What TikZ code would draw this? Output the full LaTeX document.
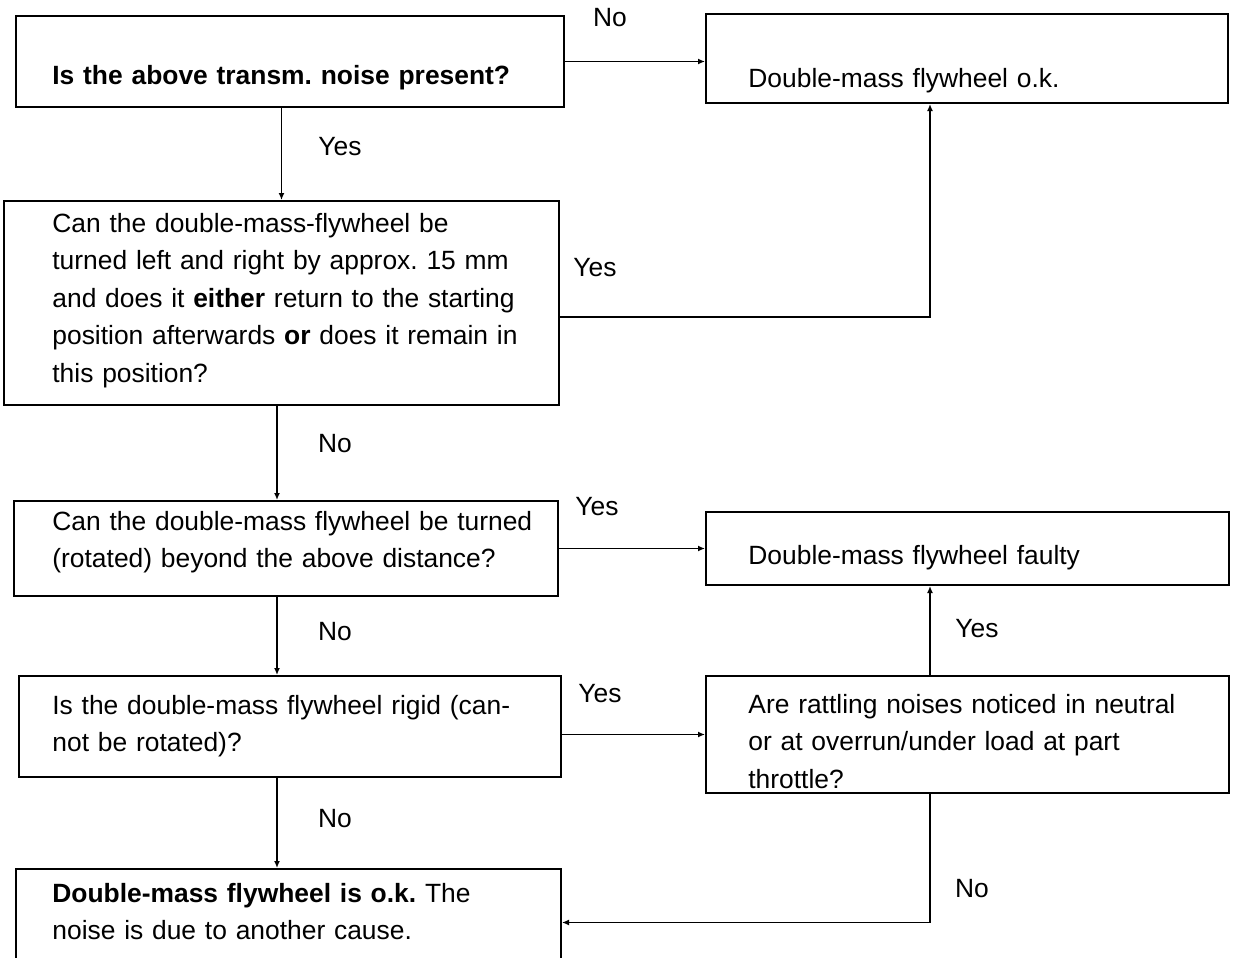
\documentclass[tikz,border=0pt]{standalone}
\usepackage{fontspec}
\setmainfont{Liberation Sans}
\usetikzlibrary{arrows.meta}
\frenchspacing

\begin{document}
\begin{tikzpicture}[x=0.5pt,y=-0.5pt,
  box/.style={draw, line width=1pt, anchor=north west, inner sep=0pt},
  txt/.style={anchor=base west, align=left, text width=260pt, inner sep=0pt,
    font=\fontsize{13.2}{18.75}\selectfont},
  lbl/.style={font=\fontsize{13.2}{18.75}\selectfont},
  arr/.style={line width=0.7pt, -{Latex[length=3.5pt,width=3pt]}}]
  \useasboundingbox (0,0) rectangle (1233,958);

  % boxes
  \node[box, minimum width=274pt, minimum height=45.5pt] (A) at (15,15) {};
  \node[box, minimum width=261pt, minimum height=44.5pt] (B) at (705,13) {};
  \node[box, minimum width=277.5pt, minimum height=102pt] (C) at (3,200) {};
  \node[box, minimum width=272pt, minimum height=47.5pt] (D) at (13,500) {};
  \node[box, minimum width=261.5pt, minimum height=36.5pt] (E) at (705,511) {};
  \node[box, minimum width=271pt, minimum height=50.5pt] (F) at (18,675) {};
  \node[box, minimum width=261.5pt, minimum height=58.5pt] (G) at (705,675) {};
  \node[box, minimum width=272.5pt, minimum height=53.5pt] (H) at (15,868) {};

  % texts
  \node[txt] (tA) at (52,84) {\textbf{Is the above transm. noise present?}};
  \node[txt] (tB) at (748,87) {Double-mass flywheel o.k.};
  \node[txt] (tC) at (52,232) {Can the double-mass-flywheel be\\turned left and right by approx. 15 mm\\and does it \textbf{either} return to the starting\\position afterwards \textbf{or} does it remain in\\this position?};
  \node[txt] (tD) at (52,530) {Can the double-mass flywheel be turned\\(rotated) beyond the above distance?};
  \node[txt] (tE) at (748,564) {Double-mass flywheel faulty};
  \node[txt] (tF) at (52,714) {Is the double-mass flywheel rigid (can-\\not be rotated)?};
  \node[txt] (tG) at (748,713) {Are rattling noises noticed in neutral\\or at overrun/under load at part\\throttle?};
  \node[txt] (tH) at (52,902) {\textbf{Double-mass flywheel is o.k.} The\\noise is due to another cause.};

  % answers
  \node[lbl] (noAB) at (610,18) {No};
  \node[lbl] (yesAC) at (340,147) {Yes};
  \node[lbl] (yesCB) at (595,268) {Yes};
  \node[lbl] (noCD) at (335,444) {No};
  \node[lbl] (yesDE) at (597,507) {Yes};
  \node[lbl] (noDF) at (335,632) {No};
  \node[lbl] (yesFG) at (600,694) {Yes};
  \node[lbl] (yesGE) at (977,629) {Yes};
  \node[lbl] (noFH) at (335,819) {No};
  \node[lbl] (noGH) at (972,889) {No};

  % connectors
  \coordinate (lx) at (277,0);
  \coordinate (rx) at (930,0);
  \coordinate (cy) at (0,317);
  \draw[arr] (A.east) -- (A.east -| B.west);
  \draw[arr] (C.north |- A.south) -- (C.north);
  \draw[arr] (C.east |- cy) -| (rx |- B.south);
  \draw[arr] (lx |- C.south) -- (lx |- D.north);
  \draw[arr] (D.east) -- (D.east -| E.west);
  \draw[arr] (lx |- D.south) -- (lx |- F.north);
  \draw[arr] (G.west -| F.east) -- (G.west);
  \draw[arr] (rx |- G.north) -- (rx |- E.south);
  \draw[arr] (lx |- F.south) -- (lx |- H.north);
  \draw[arr] (rx |- G.south) |- (H.east);
\end{tikzpicture}
\end{document}
